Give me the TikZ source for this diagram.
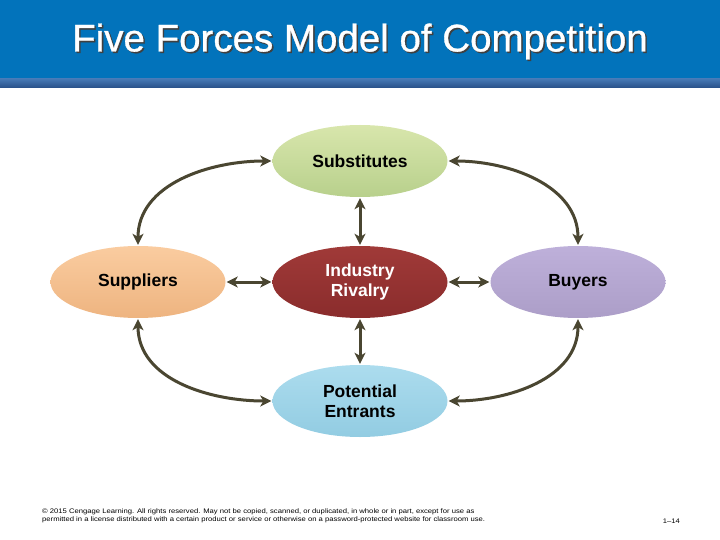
\documentclass[tikz,border=0pt]{standalone}
\usepackage{fontspec}
\setmainfont{Liberation Sans}
\newfontface\titlefont{Liberation Sans}[FakeBold=0.8]
\usetikzlibrary{shapes.geometric,arrows.meta}
\definecolor{hdrblue}{RGB}{2,115,187}
\definecolor{stripA}{RGB}{70,120,180}
\definecolor{stripB}{RGB}{40,80,135}
\definecolor{arr}{RGB}{74,70,49}
\definecolor{subA}{RGB}{216,230,172}
\definecolor{subB}{RGB}{184,208,140}
\definecolor{supA}{RGB}{250,204,160}
\definecolor{supB}{RGB}{238,180,128}
\definecolor{rivA}{RGB}{160,58,56}
\definecolor{rivB}{RGB}{138,44,44}
\definecolor{buyA}{RGB}{190,176,218}
\definecolor{buyB}{RGB}{172,158,200}
\definecolor{entA}{RGB}{172,220,238}
\definecolor{entB}{RGB}{146,204,226}
\tikzset{
  force/.style={ellipse, minimum width=175pt, minimum height=72pt, inner sep=0pt,
    align=center, font=\fontsize{17.5}{20}\selectfont\bfseries},
  link/.style={draw=arr, line width=3pt, {Stealth[length=11pt,width=11pt,inset=3pt]}-{Stealth[length=11pt,width=11pt,inset=3pt]}, shorten >=1pt, shorten <=1pt},
  titletext/.style={font=\titlefont\fontsize{38.5}{42}\selectfont},
}
\begin{document}
\begin{tikzpicture}[x=1pt,y=-1pt]
\useasboundingbox (0,0) rectangle (720,540);
\fill[white] (0,0) rectangle (720,540);
% header
\fill[hdrblue] (0,0) rectangle (720,79);
\shade[top color=stripA, bottom color=stripB] (0,79) rectangle (720,88);
\node[titletext, text=black!75] at (361.5,43) {Five Forces Model of Competition};
\node (title) [titletext, text=white] at (360,41.5) {Five Forces Model of Competition};
% forces
\node[force, top color=subA, bottom color=subB] (sub) at (360,161) {Substitutes};
\node[force, top color=supA, bottom color=supB] (sup) at (138,282) {Suppliers};
\node[force, top color=rivA, bottom color=rivB, text=white] (riv) at (360,282) {Industry\\Rivalry};
\node[force, top color=buyA, bottom color=buyB] (buy) at (578,282) {Buyers};
\node[force, top color=entA, bottom color=entB] (ent) at (360,401) {Potential\\Entrants};
% connectors
\draw[link] (sub) -- (riv);
\draw[link] (riv) -- (ent);
\draw[link] (sup) -- (riv);
\draw[link] (riv) -- (buy);
\draw[link] (sub.west) to[out=180,in=90] (sup.north);
\draw[link] (sub.east) to[out=0,in=90] (buy.north);
\draw[link] (sup.south) to[out=-90,in=180] (ent.west);
\draw[link] (buy.south) to[out=-90,in=0] (ent.east);
% footer
\node (foot) [anchor=north west, align=left, inner sep=0pt, font=\fontsize{6.6}{8}\selectfont] at (42,509)
 {\scalebox{1.16}[1]{\textcopyright{} 2015 Cengage Learning. All rights reserved. May not be copied, scanned, or duplicated, in whole or in part, except for use as}\\
 \scalebox{1.16}[1]{permitted in a license distributed with a certain product or service or otherwise on a password-protected website for classroom use.}};
\node (page) [anchor=base east, inner sep=0pt, font=\fontsize{6.6}{8}\selectfont] at (680,523.5) {\scalebox{1.16}[1]{1--14}};
\end{tikzpicture}
\end{document}
